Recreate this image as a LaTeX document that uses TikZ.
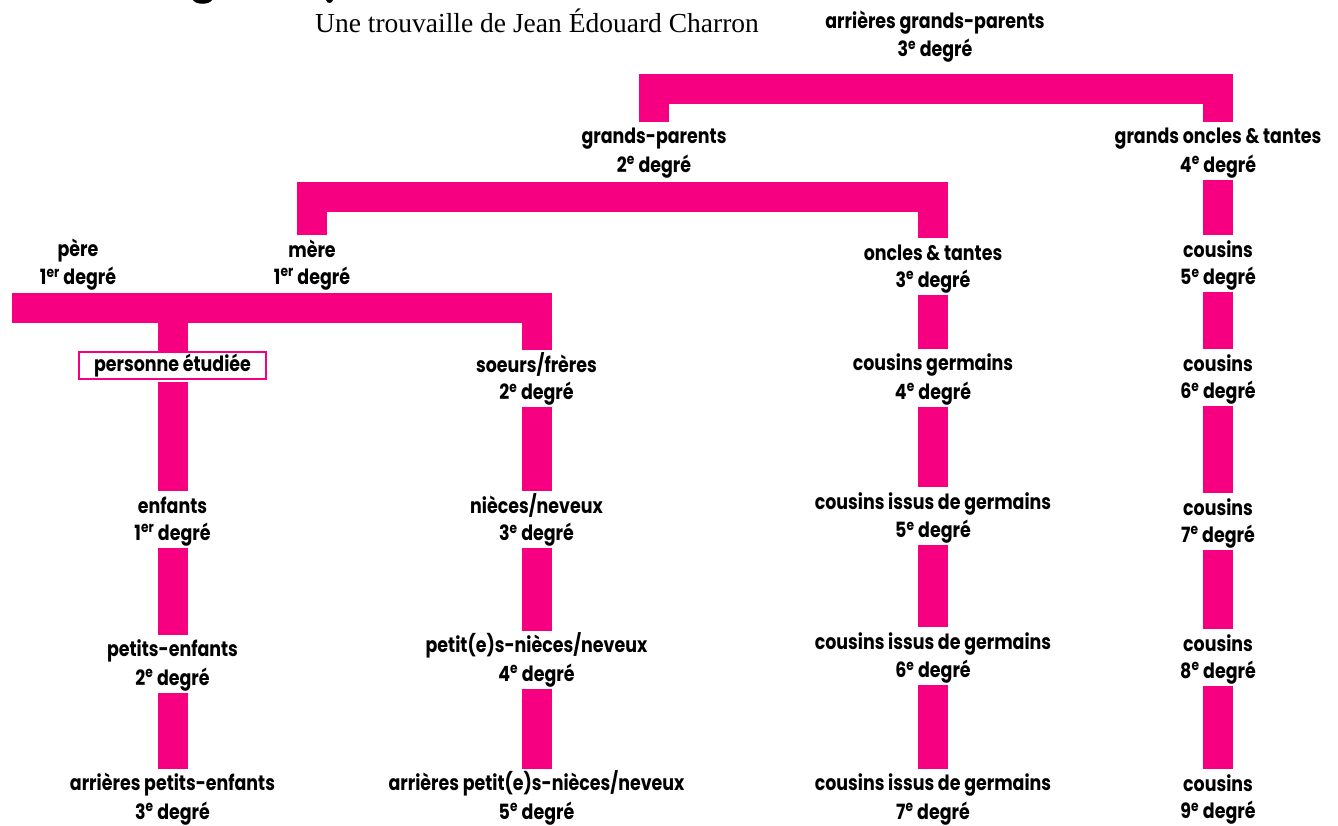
\documentclass[tikz,border=0pt]{standalone}
\usepackage{fontspec}
\setmainfont{Liberation Serif}
\newfontfamily\lab{Poppins}[FakeStretch=0.83]
\usetikzlibrary{calc}
\definecolor{rose}{RGB}{246,0,129}
\tikzset{
  lbl/.style={align=center, inner sep=0pt, font=\lab\bfseries\fontsize{21}{27}\selectfont},
  bar/.style={draw=rose, line width=30pt, line join=miter, line cap=butt},
  vbar/.style={bar, shorten <=1.5pt},
  persbox/.style={lbl, draw=rose, line width=2.5pt, minimum width=187pt, minimum height=27pt},
  titre/.style={anchor=base west, inner sep=0pt, font=\fontsize{27.5}{30}\selectfont}
}
\newcommand\lstrut{\rule[-5.1pt]{0pt}{27pt}}
\newcommand\twol[2]{\lstrut #1\\\lstrut #2}
\newcommand\dgr[1]{#1\textsuperscript{e} degré}
\newcommand\dgrP{1\textsuperscript{er} degré}
\begin{document}
\begin{tikzpicture}[x=1pt,y=-1pt]
\useasboundingbox (0,0) rectangle (1338,825);
% fragments of a cut-off heading
\fill (193,0) .. controls (196,5) and (209,5) .. (212,0) -- cycle;
\fill (326,0) .. controls (327,4) and (332,4) .. (333,0) -- cycle;
\node[titre] (title) at (315,32) {Une trouvaille de Jean Édouard Charron};

\node[lbl] (agp)  at (935,34.5)  {\twol{arrières grands-parents}{\dgr{3}}};
\node[lbl] (gp)   at (654,150)   {\twol{grands-parents}{\dgr{2}}};
\node[lbl] (goct) at (1218,150)  {\twol{grands oncles \& tantes}{\dgr{4}}};
\node[lbl] (pere) at (78,262.5)  {\twol{père}{\dgrP}};
\node[lbl] (mere) at (312,262.5) {\twol{mère}{\dgrP}};
\node[lbl] (ot)   at (933,265.5) {\twol{oncles \& tantes}{\dgr{3}}};
\node[lbl] (c5)   at (1218,263)  {\twol{cousins}{\dgr{5}}};
\node[persbox] (box) at (172.5,365.5) {personne étudiée};
\node[lbl] (sf)   at (536.5,378) {\twol{soeurs/frères}{\dgr{2}}};
\node[lbl] (cg)   at (933,377)   {\twol{cousins germains}{\dgr{4}}};
\node[lbl] (c6)   at (1218,377)  {\twol{cousins}{\dgr{6}}};
\node[lbl] (enf)  at (172.5,518.5) {\twol{enfants}{\dgrP}};
\node[lbl] (nn)   at (536.5,519) {\twol{nièces/neveux}{\dgr{3}}};
\node[lbl] (cig5) at (933,515.5) {\twol{cousins issus de germains}{\dgr{5}}};
\node[lbl] (c7)   at (1218,520.5) {\twol{cousins}{\dgr{7}}};
\node[lbl] (pe)   at (172.5,663) {\twol{petits-enfants}{\dgr{2}}};
\node[lbl] (pnn)  at (536.5,659) {\twol{petit(e)s-nièces/neveux}{\dgr{4}}};
\node[lbl] (cig6) at (933,655.5) {\twol{cousins issus de germains}{\dgr{6}}};
\node[lbl] (c8)   at (1218,656.5) {\twol{cousins}{\dgr{8}}};
\node[lbl] (ape)  at (172.5,797) {\twol{arrières petits-enfants}{\dgr{3}}};
\node[lbl] (apnn) at (536.5,797) {\twol{arrières petit(e)s-nièces/neveux}{\dgr{5}}};
\node[lbl] (cig7) at (933,797) {\twol{cousins issus de germains}{\dgr{7}}};
\node[lbl] (c9)   at (1218,797) {\twol{cousins}{\dgr{9}}};

% brackets
\draw[bar] (gp.north) |- ($(agp.south)+(0,26.5)$) -| (goct.north);
\draw[bar] (mere.north) |- ($(gp.south)+(0,18.5)$) -| (ot.north);
\coordinate (fe) at (12,307.5);
\draw[bar] (fe) -| (sf.north);
\draw[bar] (box.north) -- (box.north |- fe);

% vertical links
\draw[vbar] (box.south) -- (enf.north);
\draw[vbar] (enf.south) -- (pe.north);
\draw[vbar] (pe.south) -- (ape.north);
\draw[vbar] (sf.south) -- (nn.north);
\draw[vbar] (nn.south) -- (pnn.north);
\draw[vbar] (pnn.south) -- (apnn.north);
\draw[vbar] (ot.south) -- (cg.north);
\draw[vbar] (cg.south) -- (cig5.north);
\draw[vbar] (cig5.south) -- (cig6.north);
\draw[vbar] (cig6.south) -- (cig7.north);
\draw[vbar] (goct.south) -- (c5.north);
\draw[vbar] (c5.south) -- (c6.north);
\draw[vbar] (c6.south) -- (c7.north);
\draw[vbar] (c7.south) -- (c8.north);
\draw[vbar] (c8.south) -- (c9.north);
\end{tikzpicture}
\end{document}
